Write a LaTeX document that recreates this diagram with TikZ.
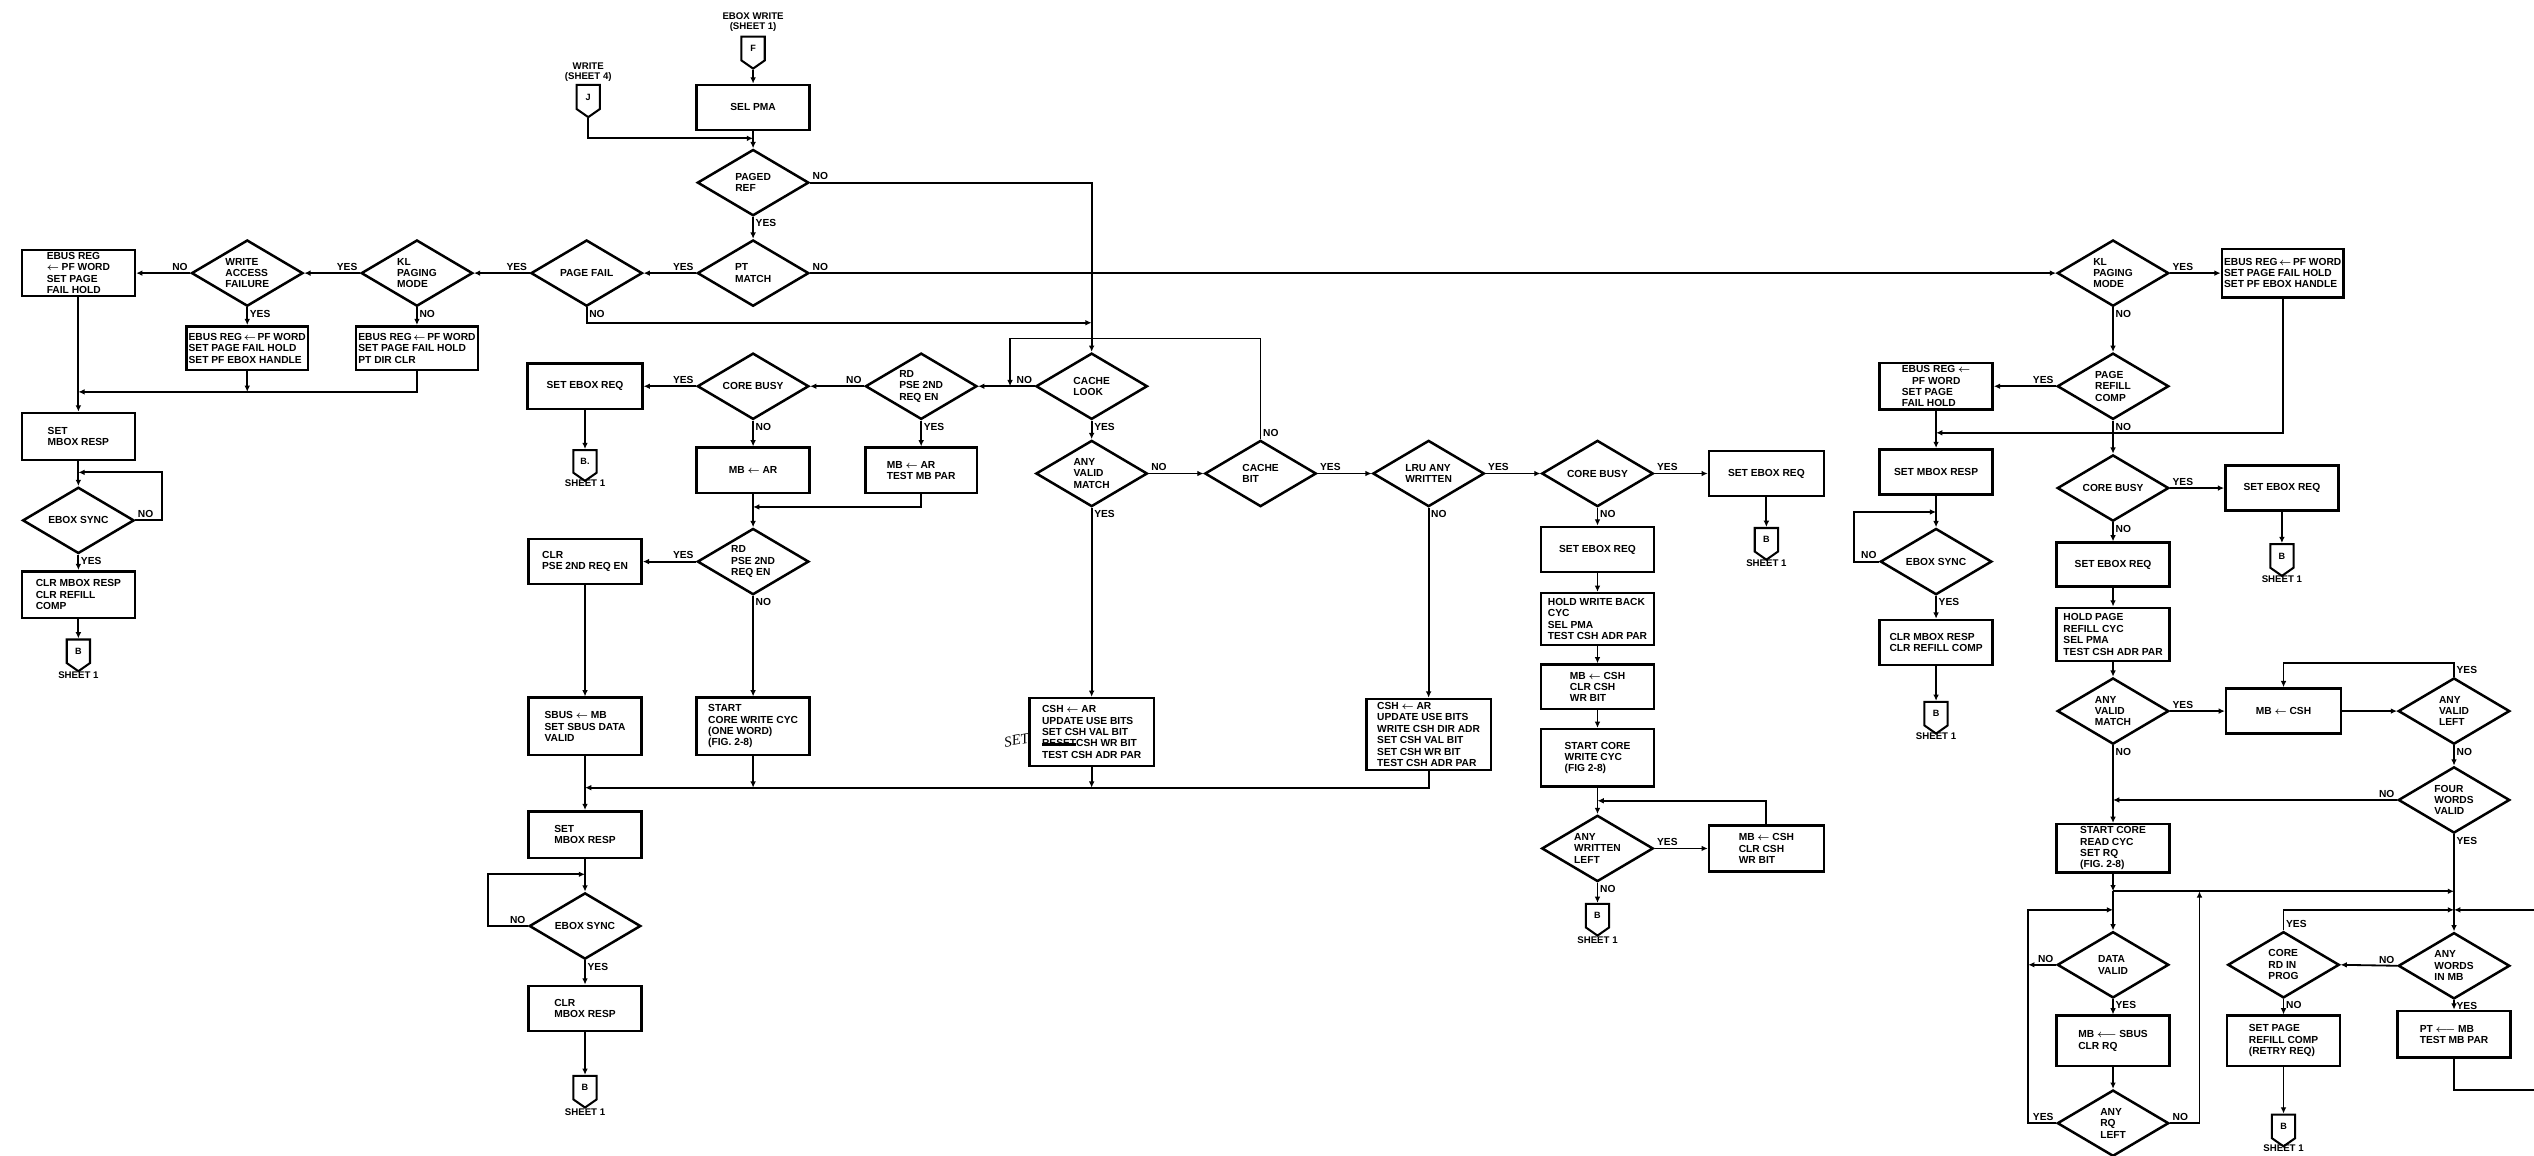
\documentclass[tikz,border=0pt]{standalone}
\usepackage{fontspec}
\setmainfont{Liberation Sans}
\setsansfont{Liberation Sans}
\newfontfamily\handfont{Liberation Serif}
\usepackage{amsmath}
\usepackage{tikz}
\usetikzlibrary{
  arrows.meta,
  shapes.geometric,
  shapes.symbols,
}
\newcommand{\larr}{\ensuremath{\boldsymbol{\leftarrow}}}
\newcommand{\llarr}{\ensuremath{\boldsymbol{\longleftarrow}}}
\newcommand{\boxfont}{\fontsize{9}{10}\selectfont\bfseries}
\newcommand{\scratch}[1]{\setbox0\hbox{#1}\rlap{\rule[0.25ex]{\wd0}{2.4pt}}\box0}
\tikzset{
  >={Latex[length=5.5pt,width=5pt]},
  font=\boxfont,
  procbox/.style={draw, line width=2.2pt, rectangle, minimum width=3.5cm,
    minimum height=1.4cm, inner sep=2pt, align=left},
  decision/.style={draw, line width=2.2pt, diamond, aspect=1.7,
    minimum width=3.45cm, minimum height=2.05cm, inner sep=0pt, align=left},
  offpage/.style={draw, line width=1.8pt, signal, signal to=south,
    signal from=nowhere, signal pointer angle=110, minimum width=0.72cm,
    minimum height=0.8cm, inner sep=0pt, font=\fontsize{8}{9}\selectfont\bfseries},
  sheetcap/.style={align=center, inner sep=0pt, font=\fontsize{8.5}{9}\selectfont\bfseries},
  yn/.style={inner sep=1.5pt},
  flow/.style={line width=1.6pt, ->},
}

\begin{document}
\begin{tikzpicture}[x=0.05cm,y=-0.05cm]
  \fill[white] (0,0) rectangle (1568,715);
  \useasboundingbox (0,0) rectangle (1568,715);

  % entry
  \node[sheetcap] (ewlbl) at (466,13.5) {EBOX WRITE\\(SHEET 1)};
  \node[offpage] (conF) at (466,30) {F};
  \node[procbox] (selpma) at (466,66.5) {SEL PMA};
  \node[sheetcap] (wrlbl) at (364,44.5) {WRITE\\(SHEET 4)};
  \node[offpage] (conJ) at (364,60) {J};
  \coordinate (jJ) at (466,85.6);
  \node[decision] (pagedref) at (466,113) {PAGED\\REF};
  \node[decision] (ptmatch) at (466,169) {PT\\MATCH};

  % page fail row
  \node[decision] (pagefail) at (363,169) {PAGE FAIL};
  \node[decision] (klpm) at (258,169) {KL\\PAGING\\MODE};
  \node[decision] (waf) at (153,169) {WRITE\\ACCESS\\FAILURE};
  \node[procbox] (pfhold) at (48.5,169) {EBUS REG\\\larr\ PF WORD\\SET PAGE\\FAIL HOLD};
  \node[procbox, minimum width=3.6cm, minimum height=1.36cm] (wabox) at (153,215.5)
    {EBUS REG\,\larr\,PF WORD\\SET PAGE FAIL HOLD\\SET PF EBOX HANDLE};
  \node[procbox, minimum width=3.55cm, minimum height=1.36cm] (klbox) at (258,215.5)
    {EBUS REG\,\larr\,PF WORD\\SET PAGE FAIL HOLD\\PT DIR CLR};
  \coordinate (m1) at (48.5,242.5);
  \node[procbox, minimum height=1.45cm] (setmb1) at (48.5,270) {SET\\MBOX RESP};
  \node[decision] (sync1) at (48.5,322) {EBOX SYNC};
  \coordinate (s1r) at (100,322);
  \coordinate (s1t) at (48.5,292.3);
  \node[procbox, minimum height=1.45cm] (clrmb1) at (48.5,368) {CLR MBOX RESP\\CLR REFILL\\COMP};
  \node[offpage] (conB1) at (48.5,403) {B};
  \node[sheetcap] (sh1) at (48.5,418) {SHEET 1};

  % cache look row
  \coordinate (pfj) at (675.5,199.7);
  \coordinate (cbl) at (625,209.4);
  \coordinate (cbe) at (625,239);
  \node[decision] (cachelook) at (675.5,239) {CACHE\\LOOK};
  \node[decision] (rdpse1) at (570,239) {RD\\PSE 2ND\\REQ EN};
  \node[decision] (cbusy1) at (466,239) {CORE BUSY};
  \node[procbox, minimum width=3.55cm] (seteb1) at (362,239) {SET EBOX REQ};
  \node[offpage] (conB2) at (362,285.5) {B.};
  \node[sheetcap] (sh2) at (362,299) {SHEET 1};
  \node[procbox] (mbar1) at (466,291) {MB \larr\ AR};
  \node[procbox, minimum width=3.45cm] (mbar2) at (570,291) {MB \larr\ AR\\TEST MB PAR};
  \coordinate (m2) at (466,313.7);
  \node[decision] (rdpse2) at (466,347.5) {RD\\PSE 2ND\\REQ EN};
  \node[procbox] (clrpse) at (362,347.5) {CLR\\PSE 2ND REQ EN};
  \node[procbox, minimum height=1.78cm] (scw1) at (466,449.5) {START\\CORE WRITE CYC\\(ONE WORD)\\(FIG. 2-8)};
  \node[procbox, minimum height=1.78cm] (sbus) at (362,449.5) {SBUS \larr\ MB\\SET SBUS DATA\\VALID};
  \coordinate (m3) at (362,487.4);
  \node[procbox, minimum height=1.45cm] (setmb2) at (362,516.5) {SET\\MBOX RESP};
  \node[decision] (sync2) at (362,573) {EBOX SYNC};
  \coordinate (s2l) at (302,573);
  \coordinate (s2t) at (362,541);
  \node[procbox] (clrmb2) at (362,624) {CLR\\MBOX RESP};
  \node[offpage] (conB3) at (362,673) {B};
  \node[sheetcap] (sh3) at (362,688) {SHEET 1};

  % cache hit / miss
  \node[decision] (avm1) at (675.5,293) {ANY\\VALID\\MATCH};
  \node[procbox, minimum width=3.85cm, minimum height=2.1cm] (csh1) at (675.5,453)
    {CSH \larr\ AR\\UPDATE USE BITS\\SET CSH VAL BIT\\\scratch{RESET} CSH WR BIT\\TEST CSH ADR PAR};
  \node[font=\handfont\itshape\mdseries\fontsize{13}{13}\selectfont, rotate=10] (hand) at (629,458) {SET};
  \node[decision] (cachebit) at (780,293) {CACHE\\BIT};
  \node[decision] (lru) at (884,293) {LRU ANY\\WRITTEN};
  \node[procbox, minimum width=3.85cm, minimum height=2.2cm] (csh2) at (884,454.5)
    {CSH \larr\ AR\\UPDATE USE BITS\\WRITE CSH DIR ADR\\SET CSH VAL BIT\\SET CSH WR BIT\\TEST CSH ADR PAR};
  \node[decision] (cbusy2) at (988.5,293) {CORE BUSY};
  \node[procbox, minimum width=3.55cm] (seteb2) at (1093,293) {SET EBOX REQ};
  \node[offpage] (conB4) at (1093,334) {B};
  \node[sheetcap] (sh4) at (1093,348.4) {SHEET 1};
  \node[procbox] (seteb3) at (988.5,340) {SET EBOX REQ};
  \node[procbox, minimum height=1.6cm] (holdwb) at (988.5,383) {HOLD WRITE BACK\\CYC\\SEL PMA\\TEST CSH ADR PAR};
  \node[procbox, minimum height=1.38cm] (mbcsh1) at (988.5,425) {MB \larr\ CSH\\CLR CSH\\WR BIT};
  \node[procbox, minimum height=1.78cm] (scw2) at (988.5,469) {START CORE\\WRITE CYC\\(FIG 2-8)};
  \coordinate (j5) at (988.5,495.5);
  \node[decision] (awl) at (988.5,525) {ANY\\WRITTEN\\LEFT};
  \node[procbox, minimum width=3.55cm, minimum height=1.42cm] (mbcsh2) at (1093,525) {MB \larr\ CSH\\CLR CSH\\WR BIT};
  \node[offpage] (conB5) at (988.5,566.6) {B};
  \node[sheetcap] (sh5) at (988.5,582) {SHEET 1};

  % page refill
  \node[decision] (klpm2) at (1307.5,169) {KL\\PAGING\\MODE};
  \node[procbox, minimum width=3.65cm, minimum height=1.5cm] (pfhold3) at (1412.5,169)
    {EBUS REG\,\larr\,PF WORD\\SET PAGE FAIL HOLD\\SET PF EBOX HANDLE};
  \node[decision] (prc) at (1307.5,239) {PAGE\\REFILL\\COMP};
  \node[procbox, minimum height=1.45cm] (pfhold4) at (1198,239)
    {EBUS REG \larr\\\hspace*{1em}PF WORD\\SET PAGE\\FAIL HOLD};
  \coordinate (m6) at (1198,267.8);
  \node[procbox] (setmb3) at (1198,292) {SET MBOX RESP};
  \node[decision] (sync3) at (1198,347.5) {EBOX SYNC};
  \coordinate (s3l) at (1147.3,347.5);
  \coordinate (s3t) at (1198,316.8);
  \node[procbox] (clrmb3) at (1198,397.6) {CLR MBOX RESP\\CLR REFILL COMP};
  \node[offpage] (conB6) at (1198,441.6) {B};
  \node[sheetcap] (sh6) at (1198,455.5) {SHEET 1};
  \node[decision] (cbusy3) at (1307.5,302) {CORE BUSY};
  \node[procbox] (seteb4) at (1412,302) {SET EBOX REQ};
  \node[offpage] (conB7) at (1412,344) {B};
  \node[sheetcap] (sh7) at (1412,358.4) {SHEET 1};
  \node[procbox, minimum height=1.36cm] (seteb5) at (1307.5,349.4) {SET EBOX REQ};
  \node[procbox, minimum height=1.65cm] (holdpg) at (1307.5,392.6) {HOLD PAGE\\REFILL CYC\\SEL PMA\\TEST CSH ADR PAR};
  \node[decision] (avm2) at (1307.5,440) {ANY\\VALID\\MATCH};
  \node[procbox, minimum width=3.55cm] (mbcsh3) at (1413,440) {MB \larr\ CSH};
  \node[decision] (avl) at (1518.5,440) {ANY\\VALID\\LEFT};
  \coordinate (l7) at (1413,410);
  \node[decision] (fwv) at (1518.5,495) {FOUR\\WORDS\\VALID};
  \coordinate (j6) at (1307.5,495);
  \node[procbox, minimum height=1.5cm] (scr) at (1307.5,525) {START CORE\\READ CYC\\SET RQ\\(FIG. 2-8)};
  \coordinate (j7) at (1307.5,551.5);
  \coordinate (jr) at (1518.5,551.5);
  \coordinate (lp1) at (1255,563);
  \coordinate (lp2) at (1307.5,563);
  \coordinate (rc1) at (1518.5,563);
  \coordinate (pe1) at (1568,674.5);
  \coordinate (pe2) at (1568,563);
  \coordinate (dvl) at (1255,597);
  \coordinate (rq1) at (1361,551.5);
  \node[decision] (dv) at (1307.5,597) {DATA\\VALID};
  \node[procbox, minimum height=1.55cm] (mbsbus) at (1307.5,644) {MB \llarr\ SBUS\\CLR RQ};
  \node[decision] (arl) at (1307.5,695) {ANY\\RQ\\LEFT};
  \node[decision] (crip) at (1413,597) {CORE\\RD IN\\PROG};
  \node[procbox, minimum height=1.55cm] (sprc) at (1413,644) {SET PAGE\\REFILL COMP\\(RETRY REQ)};
  \node[offpage] (conB8) at (1413,697) {B};
  \node[sheetcap] (sh8) at (1413,710.5) {SHEET 1};
  \node[decision] (awim) at (1518.5,597.6) {ANY\\WORDS\\IN MB};
  \node[procbox, minimum height=1.45cm] (ptmb) at (1518.5,640) {PT \llarr\ MB\\TEST MB PAR};

  % entry flow
  \draw[flow] (conF.south) -- (selpma.north);
  \draw[flow] (conJ.south) |- (jJ);
  \draw[flow] (selpma.south) -- (pagedref.north);
  \draw[flow] (pagedref.east) node[yn, above right] {NO} -| (cachelook.north);
  \draw[flow] (pagedref.south) node[yn, below right] {YES} -- (ptmatch.north);
  \draw[flow] (ptmatch.east) node[yn, above right] {NO} -- (klpm2.west);
  \draw[flow] (ptmatch.west) node[yn, above left] {YES} -- (pagefail.east);
  \draw[flow] (pagefail.south) node[yn, below right] {NO} |- (pfj);
  \draw[flow] (pagefail.west) node[yn, above left] {YES} -- (klpm.east);
  \draw[flow] (klpm.west) node[yn, above left] {YES} -- (waf.east);
  \draw[flow] (waf.west) node[yn, above left] {NO} -- (pfhold.east);
  \draw[flow] (waf.south) node[yn, below right] {YES} -- (wabox.north);
  \draw[flow] (klpm.south) node[yn, below right] {NO} -- (klbox.north);
  \draw[flow] (wabox.south) -- (wabox.south |- m1);
  \draw[flow] (klbox.south) |- (m1);
  \draw[flow] (pfhold.south) -- (setmb1.north);
  \draw[flow] (setmb1.south) -- (sync1.north);
  \draw[flow] (sync1.east) node[yn, above right] {NO} -- (s1r) |- (s1t);
  \draw[flow] (sync1.south) node[yn, below right] {YES} -- (clrmb1.north);
  \draw[flow] (clrmb1.south) -- (conB1.north);

  % cache look flow
  \draw[flow] (cachelook.west) node[yn, above left] {NO} -- (rdpse1.east);
  \draw[flow] (rdpse1.west) node[yn, above left] {NO} -- (cbusy1.east);
  \draw[flow] (cbusy1.west) node[yn, above left] {YES} -- (seteb1.east);
  \draw[flow] (seteb1.south) -- (conB2.north);
  \draw[flow] (cbusy1.south) node[yn, below right] {NO} -- (mbar1.north);
  \draw[flow] (rdpse1.south) node[yn, below right] {YES} -- (mbar2.north);
  \draw[flow] (mbar2.south) |- (m2);
  \draw[flow] (mbar1.south) -- (rdpse2.north);
  \draw[flow] (rdpse2.west) node[yn, above left] {YES} -- (clrpse.east);
  \draw[flow] (rdpse2.south) node[yn, below right] {NO} -- (scw1.north);
  \draw[flow] (clrpse.south) -- (sbus.north);
  \draw[flow] (sbus.south) -- (setmb2.north);
  \draw[flow] (scw1.south) -- (scw1.south |- m3);
  \draw[flow] (csh1.south) -- (csh1.south |- m3);
  \draw[flow] (csh2.south) |- (m3);
  \draw[flow] (setmb2.south) -- (sync2.north);
  \draw[flow] (sync2.west) node[yn, above left] {NO} -- (s2l) |- (s2t);
  \draw[flow] (sync2.south) node[yn, below right] {YES} -- (clrmb2.north);
  \draw[flow] (clrmb2.south) -- (conB3.north);
  \draw[flow] (cachelook.south) node[yn, below right] {YES} -- (avm1.north);
  \draw[flow] (avm1.south) node[yn, below right] {YES} -- (csh1.north);
  \draw[flow] (avm1.east) node[yn, above right] {NO} -- (cachebit.west);
  \draw[flow] (cachebit.north) node[yn, above right] {NO} |- (cbl) -- (cbe);
  \draw[flow] (cachebit.east) node[yn, above right] {YES} -- (lru.west);
  \draw[flow] (lru.east) node[yn, above right] {YES} -- (cbusy2.west);
  \draw[flow] (lru.south) node[yn, below right] {NO} -- (csh2.north);
  \draw[flow] (cbusy2.east) node[yn, above right] {YES} -- (seteb2.west);
  \draw[flow] (seteb2.south) -- (conB4.north);
  \draw[flow] (cbusy2.south) node[yn, below right] {NO} -- (seteb3.north);
  \draw[flow] (seteb3.south) -- (holdwb.north);
  \draw[flow] (holdwb.south) -- (mbcsh1.north);
  \draw[flow] (mbcsh1.south) -- (scw2.north);
  \draw[flow] (scw2.south) -- (awl.north);
  \draw[flow] (awl.east) node[yn, above right] {YES} -- (mbcsh2.west);
  \draw[flow] (mbcsh2.north) |- (j5);
  \draw[flow] (awl.south) node[yn, below right] {NO} -- (conB5.north);

  % page refill flow
  \draw[flow] (klpm2.east) node[yn, above right] {YES} -- (pfhold3.west);
  \draw[flow] (klpm2.south) node[yn, below right] {NO} -- (prc.north);
  \draw[flow] (prc.west) node[yn, above left] {YES} -- (pfhold4.east);
  \draw[flow] (pfhold3.south) |- (m6);
  \draw[flow] (pfhold4.south) -- (setmb3.north);
  \draw[flow] (prc.south) node[yn, below right] {NO} -- (cbusy3.north);
  \draw[flow] (setmb3.south) -- (sync3.north);
  \draw[flow] (sync3.west) node[yn, above left] {NO} -- (s3l) |- (s3t);
  \draw[flow] (sync3.south) node[yn, below right] {YES} -- (clrmb3.north);
  \draw[flow] (clrmb3.south) -- (conB6.north);
  \draw[flow] (cbusy3.east) node[yn, above right] {YES} -- (seteb4.west);
  \draw[flow] (seteb4.south) -- (conB7.north);
  \draw[flow] (cbusy3.south) node[yn, below right] {NO} -- (seteb5.north);
  \draw[flow] (seteb5.south) -- (holdpg.north);
  \draw[flow] (holdpg.south) -- (avm2.north);
  \draw[flow] (avm2.east) node[yn, above right] {YES} -- (mbcsh3.west);
  \draw[flow] (mbcsh3.east) -- (avl.west);
  \draw[flow] (avl.north) node[yn, above right] {YES} |- (l7) -- (mbcsh3.north);
  \draw[flow] (avl.south) node[yn, below right] {NO} -- (fwv.north);
  \draw[flow] (fwv.west) node[yn, above left] {NO} -- (j6);
  \draw[flow] (avm2.south) node[yn, below right] {NO} -- (scr.north);
  \draw[flow] (scr.south) -- (j7);
  \draw[flow] (j7) -- (jr);
  \draw[flow] (j7) -- (dv.north);
  \draw[flow] (fwv.south) node[yn, below right] {YES} -- (awim.north);
  \draw[flow] (dv.west) node[yn, above left] {NO} -- (dvl);
  \draw[flow] (dv.south) node[yn, below right] {YES} -- (mbsbus.north);
  \draw[flow] (mbsbus.south) -- (arl.north);
  \draw[flow] (arl.west) node[yn, above left] {YES} -| (lp1) -- (lp2);
  \draw[flow] (arl.east) node[yn, above right] {NO} -| (rq1);
  \draw[flow] (awim.west) node[yn, above left] {NO} -- (crip.east);
  \draw[flow] (awim.south) node[yn, below right] {YES} -- (ptmb.north);
  \draw[flow] (crip.north) node[yn, above right] {YES} |- (rc1);
  \draw[flow] (crip.south) node[yn, below right] {NO} -- (sprc.north);
  \draw[flow] (sprc.south) -- (conB8.north);
  \draw[line width=1.6pt] (ptmb.south) |- (pe1);
  \draw[flow] (pe2) -- (rc1);
\end{tikzpicture}
\end{document}
